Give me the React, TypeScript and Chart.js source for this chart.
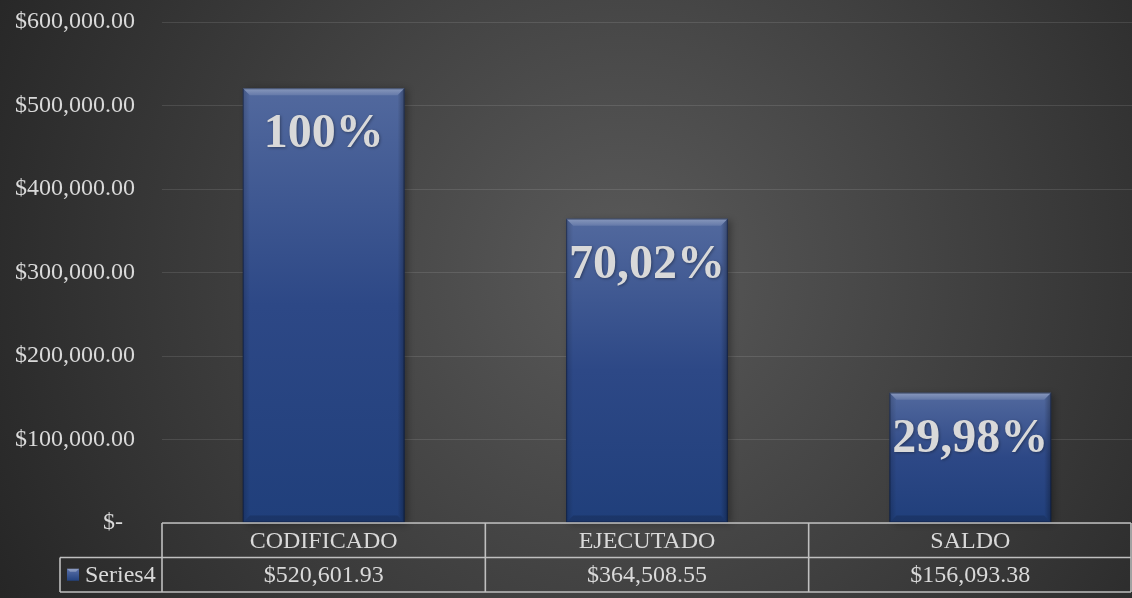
import React, { useEffect, useRef } from 'react';
import { Chart, registerables } from 'chart.js';

Chart.register(...registerables);

const categories = ['CODIFICADO', 'EJECUTADO', 'SALDO'];
const values = [520601.93, 364508.55, 156093.38];
const valueLabels = ['$520,601.93', '$364,508.55', '$156,093.38'];
const percentLabels = ['100%', '70,02%', '29,98%'];
const seriesName = 'Series4';
const yMin = 0;
const yMax = 600000;
const yStep = 100000;

const FONT = "'Liberation Serif', 'Times New Roman', serif";
const TEXT = '#d9d9d9';
const TABLE_LINE = '#bfbfbf';

function fmtTick(v: number): string {
  if (v === 0) return '$-  ';
  return '$' + v.toLocaleString('en-US', { minimumFractionDigits: 2, maximumFractionDigits: 2 });
}

const bgPlugin = {
  id: 'bgPlugin',
  beforeDraw(chart: any) {
    const { ctx, width, height } = chart;
    ctx.save();
    const g = ctx.createRadialGradient(width * 0.55, height * 0.45, 0, width * 0.55, height * 0.45, width * 0.62);
    g.addColorStop(0, '#5a5a5a');
    g.addColorStop(1, '#262626');
    ctx.fillStyle = g;
    ctx.fillRect(0, 0, width, height);
    ctx.restore();
  },
};

const barFxPlugin = {
  id: 'barFx',
  beforeDatasetsDraw(chart: any) {
    const { ctx } = chart;
    const meta = chart.getDatasetMeta(0);
    ctx.save();
    meta.data.forEach((bar: any) => {
      const L = bar.x - bar.width / 2;
      const T = bar.y;
      const B = bar.base;
      ctx.shadowColor = 'rgba(0,0,0,0.65)';
      ctx.shadowBlur = 7;
      ctx.shadowOffsetX = 3;
      ctx.shadowOffsetY = 1;
      ctx.fillStyle = 'rgba(0,0,0,0.5)';
      ctx.fillRect(L, T, bar.width, B - T);
    });
    ctx.restore();
  },
  afterDatasetsDraw(chart: any) {
    const { ctx } = chart;
    const meta = chart.getDatasetMeta(0);
    ctx.save();
    meta.data.forEach((bar: any, i: number) => {
      const L = bar.x - bar.width / 2;
      const R = bar.x + bar.width / 2;
      const T = bar.y;
      const B = bar.base;
      const b = 7;
      const bg = ctx.createLinearGradient(0, T, 0, B);
      bg.addColorStop(0, '#52699e');
      bg.addColorStop(0.5, '#2d4886');
      bg.addColorStop(1, '#203f7b');
      ctx.fillStyle = bg;
      ctx.fillRect(L, T, R - L, B - T);
      ctx.beginPath();
      ctx.moveTo(L, T);
      ctx.lineTo(R, T);
      ctx.lineTo(R - b, T + b);
      ctx.lineTo(L + b, T + b);
      ctx.closePath();
      const tg = ctx.createLinearGradient(0, T, 0, T + b);
      tg.addColorStop(0, 'rgba(255,255,255,0.32)');
      tg.addColorStop(1, 'rgba(255,255,255,0.12)');
      ctx.fillStyle = tg;
      ctx.fill();
      ctx.beginPath();
      ctx.moveTo(L, T);
      ctx.lineTo(L + b, T + b);
      ctx.lineTo(L + b, B - b);
      ctx.lineTo(L, B);
      ctx.closePath();
      const lg = ctx.createLinearGradient(L, 0, L + b, 0);
      lg.addColorStop(0, 'rgba(0,0,0,0.18)');
      lg.addColorStop(1, 'rgba(0,0,0,0.0)');
      ctx.fillStyle = lg;
      ctx.fill();
      ctx.beginPath();
      ctx.moveTo(R, T);
      ctx.lineTo(R - b, T + b);
      ctx.lineTo(R - b, B - b);
      ctx.lineTo(R, B);
      ctx.closePath();
      const rg = ctx.createLinearGradient(R - b, 0, R, 0);
      rg.addColorStop(0, 'rgba(0,0,0,0.0)');
      rg.addColorStop(1, 'rgba(0,0,0,0.3)');
      ctx.fillStyle = rg;
      ctx.fill();
      ctx.beginPath();
      ctx.moveTo(L, B);
      ctx.lineTo(L + b, B - b);
      ctx.lineTo(R - b, B - b);
      ctx.lineTo(R, B);
      ctx.closePath();
      ctx.fillStyle = 'rgba(0,0,0,0.15)';
      ctx.fill();
      ctx.strokeStyle = 'rgba(10,20,45,0.5)';
      ctx.lineWidth = 1;
      ctx.strokeRect(L + 0.5, T + 0.5, R - L - 1, B - T - 1);

      ctx.font = `bold 48px ${FONT}`;
      ctx.textAlign = 'center';
      ctx.textBaseline = 'alphabetic';
      ctx.shadowColor = 'rgba(0,0,0,0.35)';
      ctx.shadowBlur = 3;
      ctx.shadowOffsetX = 1;
      ctx.shadowOffsetY = 1;
      ctx.fillStyle = TEXT;
      ctx.fillText(percentLabels[i], bar.x, T + 59);
      ctx.shadowColor = 'transparent';
      ctx.shadowBlur = 0;
      ctx.shadowOffsetX = 0;
      ctx.shadowOffsetY = 0;
    });
    ctx.restore();
  },
};

const tablePlugin = {
  id: 'dataTable',
  afterDraw(chart: any) {
    const { ctx, chartArea, width } = chart;
    const xScale = chart.scales.x;
    const n = categories.length;
    const left = chartArea.left;
    const right = width - 1;
    const catW = (chartArea.right - chartArea.left) / n;
    const y0 = chartArea.bottom;
    const rowH = 34.5;
    const y1 = y0 + rowH;
    const y2 = y1 + rowH;
    const legendLeft = 60;

    ctx.save();
    ctx.strokeStyle = TABLE_LINE;
    ctx.lineWidth = 1.6;
    ctx.beginPath();
    ctx.moveTo(left, y0);
    ctx.lineTo(right, y0);
    ctx.moveTo(legendLeft, y1);
    ctx.lineTo(right, y1);
    ctx.moveTo(legendLeft, y2);
    ctx.lineTo(right, y2);
    ctx.moveTo(legendLeft, y1);
    ctx.lineTo(legendLeft, y2);
    for (let i = 0; i <= n; i++) {
      const x = i === n ? right : left + catW * i;
      ctx.moveTo(x, y0);
      ctx.lineTo(x, y2);
    }
    ctx.stroke();

    ctx.fillStyle = TEXT;
    ctx.font = `24px ${FONT}`;
    ctx.textAlign = 'center';
    ctx.textBaseline = 'middle';
    categories.forEach((c, i) => {
      const cx = xScale.getPixelForValue(i);
      ctx.fillText(c, cx, (y0 + y1) / 2 + 1);
      ctx.fillText(valueLabels[i], cx, (y1 + y2) / 2 + 1);
    });

    const ky = (y1 + y2) / 2 - 6;
    const kx = 67;
    const kg = ctx.createLinearGradient(0, ky, 0, ky + 12);
    kg.addColorStop(0, '#5a70a8');
    kg.addColorStop(1, '#23427f');
    ctx.fillStyle = kg;
    ctx.fillRect(kx, ky, 12, 12);
    ctx.fillStyle = 'rgba(255,255,255,0.3)';
    ctx.beginPath();
    ctx.moveTo(kx, ky);
    ctx.lineTo(kx + 12, ky);
    ctx.lineTo(kx + 9, ky + 3);
    ctx.lineTo(kx + 3, ky + 3);
    ctx.closePath();
    ctx.fill();
    ctx.fillStyle = TEXT;
    ctx.textAlign = 'left';
    ctx.fillText(seriesName, 85, (y1 + y2) / 2 + 1);
    ctx.restore();
  },
};

export default function App() {
  const ref = useRef<HTMLCanvasElement | null>(null);

  useEffect(() => {
    document.body.style.margin = '0';
    const canvas = ref.current;
    if (!canvas) return;
    const chart = new Chart(canvas, {
      type: 'bar',
      data: {
        labels: categories,
        datasets: [
          {
            label: seriesName,
            data: values,
            backgroundColor: 'rgba(0,0,0,0)',
            borderWidth: 0,
            categoryPercentage: 1,
            barPercentage: 0.5,
          },
        ],
      },
      options: {
        animation: false,
        responsive: true,
        maintainAspectRatio: false,
        layout: { padding: { top: 22, right: 0, bottom: 0, left: 0 } },
        plugins: {
          legend: { display: false },
          tooltip: { enabled: false },
          title: { display: false },
        },
        scales: {
          x: {
            display: true,
            grid: { display: false },
            border: { display: false },
            ticks: { display: false },
            afterFit: (s: any) => {
              s.height = 75;
              s.paddingLeft = 0;
              s.paddingRight = 0;
            },
          },
          y: {
            min: yMin,
            max: yMax,
            ticks: {
              stepSize: yStep,
              color: TEXT,
              font: { family: FONT, size: 24 },
              padding: 27,
              callback: (v: any) => fmtTick(Number(v)),
            },
            grid: { color: 'rgba(255,255,255,0.11)', lineWidth: 1, drawTicks: false },
            border: { display: false },
            afterFit: (s: any) => {
              s.width = 162;
              s.paddingTop = 0;
              s.paddingBottom = 0;
            },
          },
        },
      },
      plugins: [bgPlugin, barFxPlugin, tablePlugin],
    });
    return () => chart.destroy();
  }, []);

  return (
    <div style={{ width: 1132, height: 598, position: 'relative' }}>
      <canvas ref={ref} />
    </div>
  );
}
